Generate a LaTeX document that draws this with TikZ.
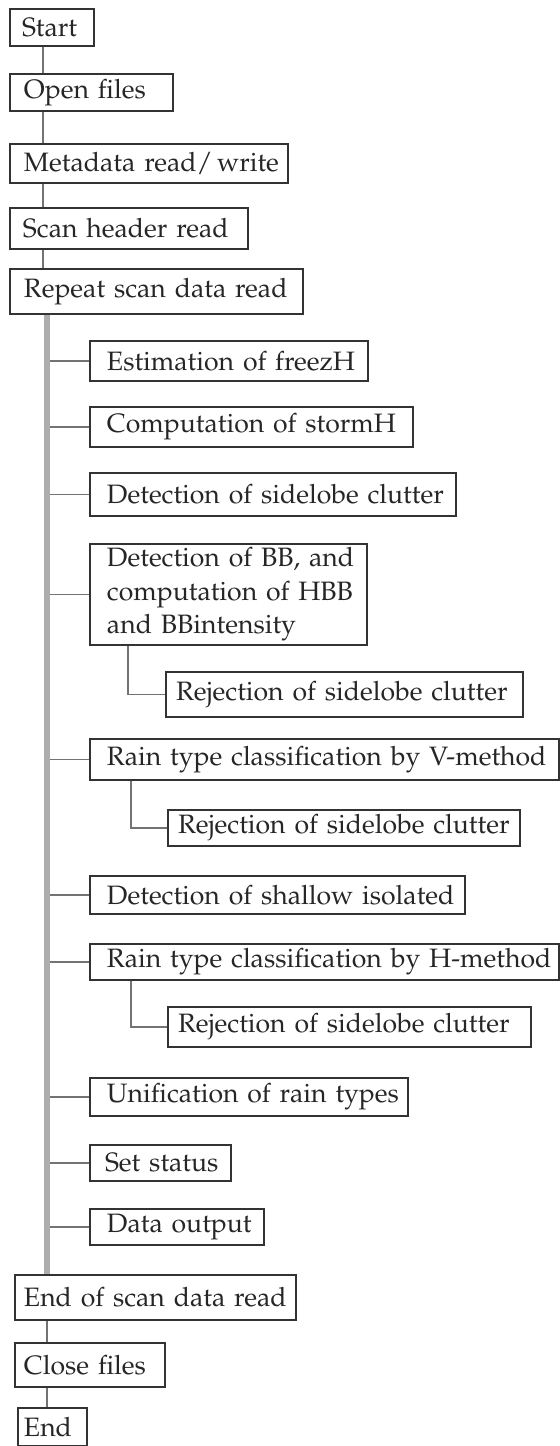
\documentclass[tikz,border=0pt]{standalone}
\usepackage[T1]{fontenc}
\usepackage{mathpazo}
\begin{document}
\begin{tikzpicture}[x=0.5pt,y=-0.5pt,
  stepbox/.style={draw=black!80, line width=1pt, rectangle, anchor=north west,
    inner xsep=0pt, inner ysep=1pt, align=left, text=black!85,
    font=\fontsize{13.3}{16.75}\selectfont,
    execute at begin node={\leftskip=7pt\relax}},
  padded/.style={execute at begin node={\leftskip=#1\relax}},
  link/.style={draw=black!55, line width=0.8pt},
  loopbar/.style={draw=black!32, line width=2.6pt},
]
\useasboundingbox (0,0) rectangle (560,1446);

% main sequence
\node[stepbox, text width=42pt,    minimum height=18.5pt, padded=6pt] (start)   at (9,8)    {Start};
\node[stepbox, text width=81.5pt,  minimum height=18.5pt] (open)    at (9,73)   {Open files};
\node[stepbox, text width=139pt,   minimum height=19.5pt] (meta)    at (9,143)  {Metadata read/\,write};
\node[stepbox, text width=119pt,   minimum height=20.5pt, padded=6.5pt] (scanhdr) at (9,207)  {Scan header read};
\node[stepbox, text width=146.5pt, minimum height=22.5pt] (repeat)  at (9,268)  {Repeat scan data read};

% steps inside the scan loop
\node[stepbox, text width=139pt,   minimum height=20pt,   padded=8.5pt] (est)     at (89,340)  {Estimation of freezH};
\node[stepbox, text width=161.5pt, minimum height=20pt,   padded=8.5pt] (comp)    at (89,406)  {Computation of stormH};
\node[stepbox, text width=183pt,   minimum height=21.5pt, padded=8.5pt] (detside) at (89,472)  {Detection of sidelobe clutter};
\node[stepbox, text width=138.5pt, minimum height=50.5pt, padded=8.5pt] (bb)      at (89,543)  {Detection of BB, and\\computation of HBB\\and BBintensity};
\node[stepbox, text width=178.5pt, minimum height=22.5pt, padded=5pt]   (rej1)    at (165,671) {Rejection of sidelobe clutter};
\node[stepbox, text width=234.5pt, minimum height=20.5pt, padded=8.5pt] (rainv)   at (89,738)  {\mbox{Rain type classification by V-method}};
\node[stepbox, text width=176pt,   minimum height=18pt,   padded=5pt]   (rej2)    at (167,809) {Rejection of sidelobe clutter};
\node[stepbox, text width=187.5pt, minimum height=19pt,   padded=8.5pt] (shallow) at (89,875)  {Detection of shallow isolated};
\node[stepbox, text width=234.5pt, minimum height=18pt,   padded=8.5pt] (rainh)   at (89,943)  {\mbox{Rain type classification by H-method}};
\node[stepbox, text width=181.5pt, minimum height=20pt,   padded=5pt]   (rej3)    at (167,1006) {Rejection of sidelobe clutter};
\node[stepbox, text width=159pt,   minimum height=19pt,   padded=8.5pt] (unif)    at (89,1077) {Unification of rain types};
\node[stepbox, text width=70.5pt,  minimum height=18pt,   padded=7.5pt] (setst)   at (89,1144) {Set status};
\node[stepbox, text width=87pt,    minimum height=18pt,   padded=8.5pt] (dataout) at (89,1208) {Data output};

% closing sequence
\node[stepbox, text width=140.5pt, minimum height=22.5pt, padded=4.5pt] (endscan) at (14,1274) {End of scan data read};
\node[stepbox, text width=75pt,    minimum height=22pt,   padded=4.5pt] (close)   at (14,1342) {Close files};
\node[stepbox, text width=34.5pt,  minimum height=19pt,   padded=3pt]   (end)     at (17,1407) {End};

% guide columns for the connectors
\coordinate (spine) at (43,0);
\coordinate (loopx) at (47,0);
\coordinate (subA)  at (128,0);
\coordinate (subB)  at (131,0);

% straight sequence
\draw[link] (start.south -| spine)   -- (open.north -| spine);
\draw[link] (open.south -| spine)    -- (meta.north -| spine);
\draw[link] (meta.south -| spine)    -- (scanhdr.north -| spine);
\draw[link] (scanhdr.south -| spine) -- (repeat.north -| spine);
\draw[link] (endscan.south -| loopx) -- (close.north -| loopx);
\draw[link] (close.south -| loopx)   -- (end.north -| loopx);

% branches off the loop bar
\foreach \n in {est,comp,detside,bb,rainv,shallow,rainh,unif,setst,dataout}
  \draw[link] (\n.west -| loopx) -- (\n.west);

% sub-steps
\draw[link] (bb.south -| subA)    |- (rej1.west);
\draw[link] (rainv.south -| subB) |- (rej2.west);
\draw[link] (rainh.south -| subB) |- (rej3.west);

% loop bar
\draw[loopbar] (repeat.south -| loopx) -- (endscan.north -| loopx);
\end{tikzpicture}
\end{document}
